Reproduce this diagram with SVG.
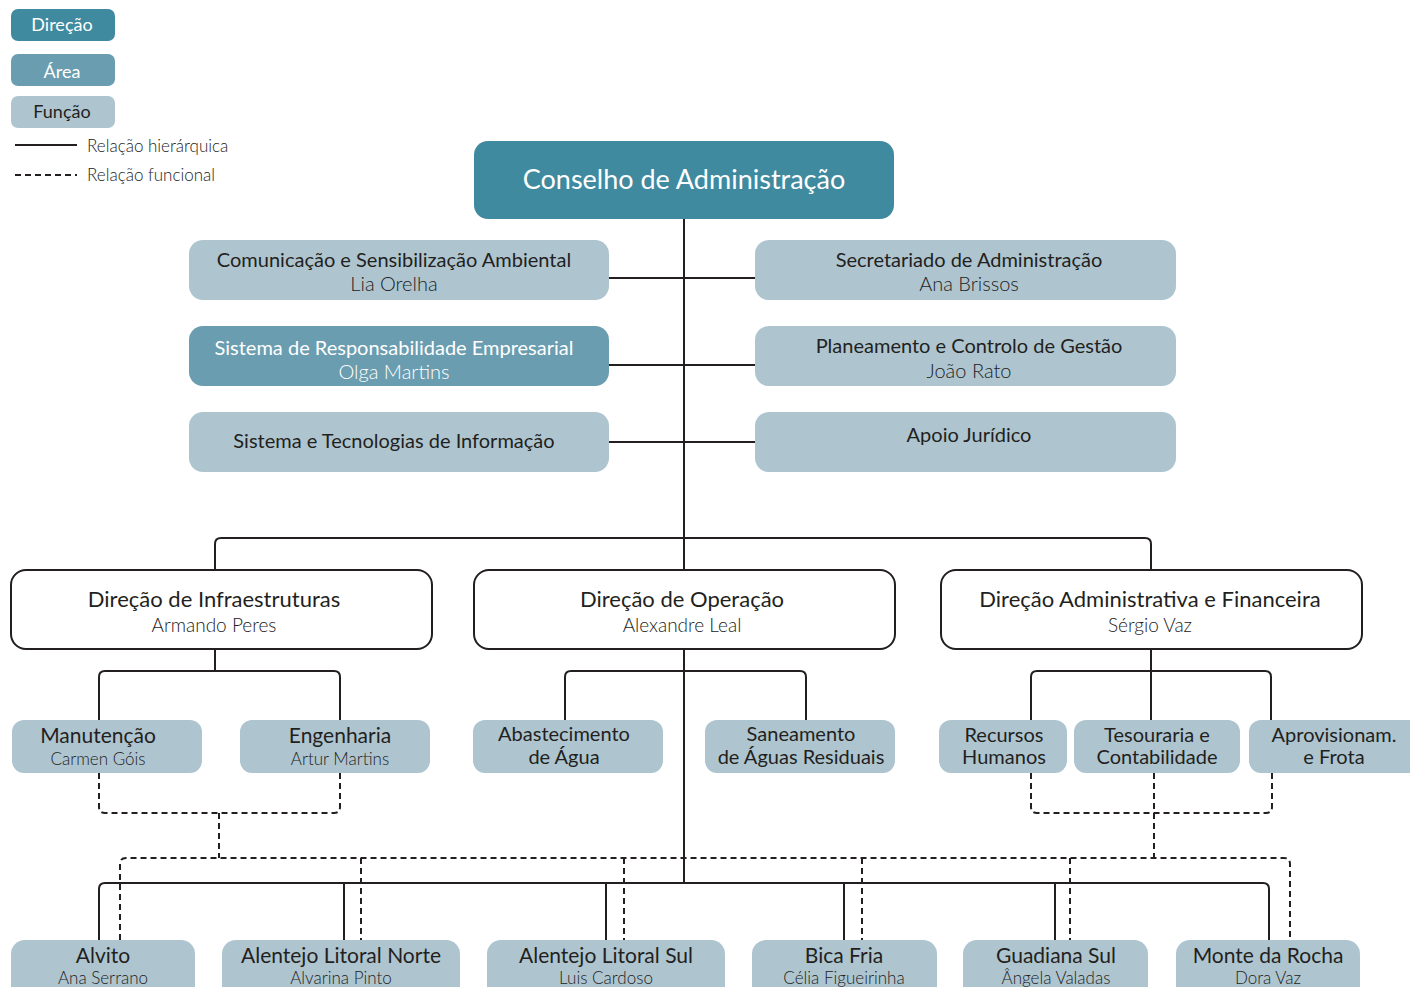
<svg xmlns="http://www.w3.org/2000/svg" width="1410" height="987" viewBox="0 0 1410 987">
<style>
text{font-family:Lato,"Liberation Sans",sans-serif;text-anchor:middle;fill:#231f20}
.dir{fill:#3f8a9f}
.area{fill:#6a9db0}
.fun{fill:#aec5d0}
.wb{fill:#fff;stroke:#231f20;stroke-width:2}
.ln{fill:none;stroke:#231f20;stroke-width:2}
.dl{fill:none;stroke:#231f20;stroke-width:2;stroke-dasharray:6 4}
.t20{font-size:20px}
.t22{font-size:22px}
.t21{font-size:21px}
.t2{font-size:20px}
.s{font-weight:300;fill:#222}
.w{fill:#fff}
.leg{font-size:17px;text-anchor:start;font-weight:300;fill:#222}
</style>
<rect width="1410" height="987" fill="#fff"/>
<g id="legend">
<rect class="dir" x="11" y="9" width="104" height="32" rx="7"/>
<text class="w" x="62" y="31" font-size="18">Direção</text>
<rect class="area" x="11" y="54" width="104" height="32" rx="7"/>
<text class="w" x="62" y="78" font-size="18">Área</text>
<rect class="fun" x="11" y="96" width="104" height="32" rx="7"/>
<text x="62" y="118" font-size="18">Função</text>
<line class="ln" x1="15" y1="145" x2="77" y2="145"/>
<line class="dl" x1="15" y1="175" x2="77" y2="175" stroke-dasharray="5 5"/>
<text class="leg" x="87" y="152">Relação hierárquica</text>
<text class="leg" x="87" y="181">Relação funcional</text>
</g>
<g id="connectors">
<line class="ln" x1="684" y1="219" x2="684" y2="883"/>
<line class="ln" x1="609" y1="278" x2="755" y2="278"/>
<line class="ln" x1="609" y1="365" x2="755" y2="365"/>
<line class="ln" x1="609" y1="442" x2="755" y2="442"/>
<path class="ln" d="M215 570 V544 Q215 538 221 538 H1145 Q1151 538 1151 544 V570"/>
<path class="ln" d="M215 649 V671"/>
<path class="ln" d="M99 720 V677 Q99 671 105 671 H334 Q340 671 340 677 V720"/>
<path class="ln" d="M565 720 V677 Q565 671 571 671 H800 Q806 671 806 677 V720"/>
<path class="ln" d="M1031 720 V677 Q1031 671 1037 671 H1265 Q1271 671 1271 677 V720"/>
<line class="ln" x1="1151" y1="649" x2="1151" y2="720"/>
<path class="ln" d="M99 940 V889 Q99 883 105 883 H1263 Q1269 883 1269 889 V940"/>
<line class="ln" x1="344" y1="883" x2="344" y2="940"/>
<line class="ln" x1="606" y1="883" x2="606" y2="940"/>
<line class="ln" x1="844" y1="883" x2="844" y2="940"/>
<line class="ln" x1="1055" y1="883" x2="1055" y2="940"/>
<path class="dl" d="M99 773 V807 Q99 813 105 813 H334 Q340 813 340 807 V773"/>
<line class="dl" x1="219" y1="813" x2="219" y2="858"/>
<path class="dl" d="M1031 773 V807 Q1031 813 1037 813 H1266 Q1272 813 1272 807 V773"/>
<line class="dl" x1="1154" y1="773" x2="1154" y2="858"/>
<path class="dl" d="M120 940 V864 Q120 858 126 858 H1284 Q1290 858 1290 864 V940"/>
<line class="dl" x1="361" y1="858" x2="361" y2="940"/>
<line class="dl" x1="624" y1="858" x2="624" y2="940"/>
<line class="dl" x1="862" y1="858" x2="862" y2="940"/>
<line class="dl" x1="1070" y1="858" x2="1070" y2="940"/>
</g>
<g id="conselho">
<rect class="dir" x="474" y="141" width="420" height="78" rx="14"/>
<text class="w" x="684" y="189" font-size="27">Conselho de Administração</text>
</g>
<g id="comunicacao">
<rect class="fun" x="189" y="240" width="420" height="60" rx="14"/>
<text class="t20" x="394" y="267">Comunicação e Sensibilização Ambiental</text>
<text class="t20 s" x="394" y="291">Lia Orelha</text>
</g>
<g id="sre">
<rect class="area" x="189" y="326" width="420" height="60" rx="14"/>
<text class="t20 w" x="394" y="355">Sistema de Responsabilidade Empresarial</text>
<text class="t20 w" x="394" y="379" font-weight="300">Olga Martins</text>
</g>
<g id="sti">
<rect class="fun" x="189" y="412" width="420" height="60" rx="14"/>
<text class="t20" x="394" y="448">Sistema e Tecnologias de Informação</text>
</g>
<g id="secretariado">
<rect class="fun" x="755" y="240" width="421" height="60" rx="14"/>
<text class="t20" x="969" y="267">Secretariado de Administração</text>
<text class="t20 s" x="969" y="291">Ana Brissos</text>
</g>
<g id="planeamento">
<rect class="fun" x="755" y="326" width="421" height="60" rx="14"/>
<text class="t20" x="969" y="353">Planeamento e Controlo de Gestão</text>
<text class="t20 s" x="969" y="378">João Rato</text>
</g>
<g id="juridico">
<rect class="fun" x="755" y="412" width="421" height="60" rx="14"/>
<text class="t20" x="969" y="442">Apoio Jurídico</text>
</g>
<g id="infra">
<rect class="wb" x="11" y="570" width="421" height="79" rx="15"/>
<text class="t22" x="214" y="607">Direção de Infraestruturas</text>
<text class="s" x="214" y="632" font-size="19">Armando Peres</text>
</g>
<g id="operacao">
<rect class="wb" x="474" y="570" width="421" height="79" rx="15"/>
<text class="t22" x="682" y="607">Direção de Operação</text>
<text class="s" x="682" y="632" font-size="19">Alexandre Leal</text>
</g>
<g id="financeira">
<rect class="wb" x="941" y="570" width="421" height="79" rx="15"/>
<text class="t22" x="1150" y="607">Direção Administrativa e Financeira</text>
<text class="s" x="1150" y="632" font-size="19">Sérgio Vaz</text>
</g>
<g id="manutencao">
<rect class="fun" x="12" y="720" width="190" height="53" rx="12"/>
<text class="t21" x="98" y="743">Manutenção</text>
<text class="s" x="98" y="765" font-size="17">Carmen Góis</text>
</g>
<g id="engenharia">
<rect class="fun" x="240" y="720" width="190" height="53" rx="12"/>
<text class="t21" x="340" y="743">Engenharia</text>
<text class="s" x="340" y="765" font-size="17">Artur Martins</text>
</g>
<g id="abastecimento">
<rect class="fun" x="473" y="720" width="190" height="53" rx="12"/>
<text class="t2" x="564" y="741">Abastecimento</text>
<text class="t2" x="564" y="764">de Água</text>
</g>
<g id="saneamento">
<rect class="fun" x="705" y="720" width="190" height="53" rx="12"/>
<text class="t2" x="801" y="741">Saneamento</text>
<text class="t2" x="801" y="764">de Águas Residuais</text>
</g>
<g id="rh">
<rect class="fun" x="939" y="720" width="128" height="53" rx="12"/>
<text class="t2" x="1004" y="742">Recursos</text>
<text class="t2" x="1004" y="764">Humanos</text>
</g>
<g id="tesouraria">
<rect class="fun" x="1074" y="720" width="166" height="53" rx="12"/>
<text class="t2" x="1157" y="742">Tesouraria e</text>
<text class="t2" x="1157" y="764">Contabilidade</text>
</g>
<g id="aprovisionamento">
<rect class="fun" x="1249" y="720" width="180" height="53" rx="12"/>
<text class="t2" x="1334" y="742">Aprovisionam.</text>
<text class="t2" x="1334" y="764">e Frota</text>
</g>
<g id="alvito">
<rect class="fun" x="11" y="940" width="184" height="70" rx="14"/>
<text class="t21" x="103" y="963">Alvito</text>
<text class="s" x="103" y="984" font-size="17">Ana Serrano</text>
</g>
<g id="aln">
<rect class="fun" x="222" y="940" width="238" height="70" rx="14"/>
<text class="t21" x="341" y="963">Alentejo Litoral Norte</text>
<text class="s" x="341" y="984" font-size="17">Alvarina Pinto</text>
</g>
<g id="als">
<rect class="fun" x="487" y="940" width="238" height="70" rx="14"/>
<text class="t21" x="606" y="963">Alentejo Litoral Sul</text>
<text class="s" x="606" y="984" font-size="17">Luis Cardoso</text>
</g>
<g id="bica">
<rect class="fun" x="752" y="940" width="185" height="70" rx="14"/>
<text class="t21" x="844" y="963">Bica Fria</text>
<text class="s" x="844" y="984" font-size="17">Célia Figueirinha</text>
</g>
<g id="guadiana">
<rect class="fun" x="963" y="940" width="185" height="70" rx="14"/>
<text class="t21" x="1056" y="963">Guadiana Sul</text>
<text class="s" x="1056" y="984" font-size="17">Ângela Valadas</text>
</g>
<g id="monte">
<rect class="fun" x="1176" y="940" width="184" height="70" rx="14"/>
<text class="t21" x="1268" y="963">Monte da Rocha</text>
<text class="s" x="1268" y="984" font-size="17">Dora Vaz</text>
</g>
</svg>
